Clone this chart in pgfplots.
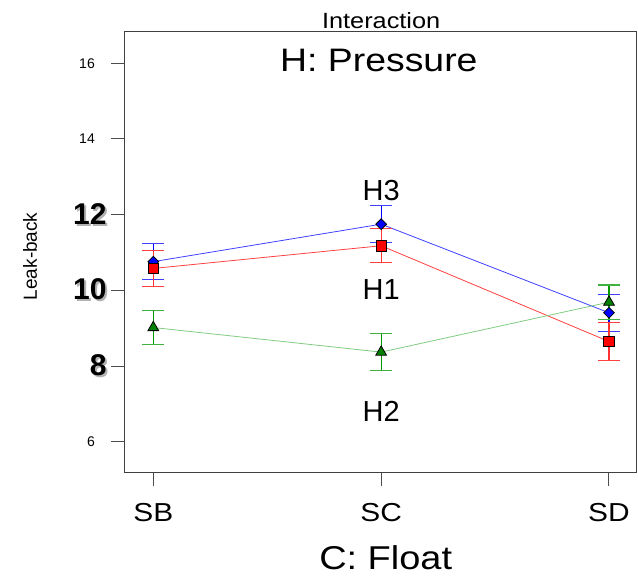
\documentclass[border=0pt]{standalone}
\usepackage{pgfplots}
\pgfplotsset{compat=1.18}
\usepackage{pgfplotstable}
\usepackage{fontspec}
\setmainfont{Liberation Sans}
\newfontfamily\wide[FakeStretch=1.15]{Liberation Sans}
\newcommand\sh[1]{\makebox[0pt][l]{\hspace{2bp}\raisebox{-2bp}{\textcolor{black!30}{#1}}}#1}
\pgfplotstableread{
x y e
0 10.76 0.48
1 11.75 0.49
2 9.41 0.49
}\tabHthree
\pgfplotstableread{
x y e
0 10.58 0.47
1 11.18 0.45
2 8.65 0.50
}\tabHone
\pgfplotstableread{
x y e
0 9.02 0.45
1 8.37 0.49
2 9.69 0.45
}\tabHtwo
\begin{document}
\begin{tikzpicture}
\begin{axis}[
 scale only axis, width=512.4bp, height=441bp,
 xmin=-0.1273, xmax=2.1216, ymin=5.185, ymax=16.834,
 /pgf/number format/assume math mode=true,
 axis line style={black!75, line width=1.1bp},
 tick align=outside, major tick length=13bp,
 tick style={black!70, line width=1bp},
 xtick={0,1,2}, xticklabels={SB,SC,SD}, xtick pos=bottom,
 ytick={6,14,16}, yticklabels={6,14,16}, ytick pos=left,
 xticklabel style={font=\wide\fontsize{26bp}{26bp}\selectfont, anchor=base, inner sep=0pt, yshift=-36bp},
 yticklabel style={font=\fontsize{14bp}{14bp}\selectfont, anchor=east, inner sep=0pt, xshift=-16.3bp},
 extra y ticks={8,10,12}, extra y tick labels={\sh{8},\sh{10},\sh{12}},
 extra y tick style={yticklabel style={font=\bfseries\fontsize{30bp}{30bp}\selectfont, xshift=11.7bp}},
 clip=false,
]
\addplot[color=blue!75, line width=0.8bp, mark=square*, mark size=3.8bp,
  mark options={rotate=45, fill=blue, draw=black, line width=0.8bp, solid},
  error bars/.cd, y dir=both, y explicit,
  error bar style={draw=blue, line width=1.2bp},
  error mark options={rotate=90, mark size=11bp, line width=1.3bp, draw=blue!75}]
  table[x=x, y=y, y error=e]{\tabHthree};
\addplot[color=red!75, line width=0.8bp, mark=square*, mark size=5.2bp,
  mark options={fill=red, draw=black, line width=0.8bp, solid},
  error bars/.cd, y dir=both, y explicit,
  error bar style={draw=red!80, line width=1.2bp},
  error mark options={rotate=90, mark size=11bp, line width=1.3bp, draw=red!75}]
  table[x=x, y=y, y error=e]{\tabHone};
\addplot[color=green!60!black!50!white, line width=0.8bp, mark=triangle*, mark size=6.2bp,
  mark options={fill=green!50!black, draw=black, line width=0.8bp, solid},
  error bars/.cd, y dir=both, y explicit,
  error bar style={draw=green!60!black, line width=1.2bp},
  error mark options={rotate=90, mark size=11bp, line width=1.3bp, draw=green!60!black!75!white}]
  table[x=x, y=y, y error=e]{\tabHtwo};
\node[font=\wide\fontsize{22bp}{22bp}\selectfont, anchor=base, yshift=3.4bp] at (axis cs:1,16.834) {Interaction};
\node[font=\wide\fontsize{32.5bp}{32.5bp}\selectfont, anchor=base] at (axis cs:0.99,15.78) {H: Pressure};
\node[font=\fontsize{29bp}{29bp}\selectfont, anchor=base] at (axis cs:1,12.37) {H3};
\node[font=\fontsize{29bp}{29bp}\selectfont, anchor=base] at (axis cs:1,9.76) {H1};
\node[font=\fontsize{29bp}{29bp}\selectfont, anchor=base] at (axis cs:1,6.55) {H2};
\node[font=\wide\fontsize{33bp}{33bp}\selectfont, anchor=base, yshift=-96.6bp] at (axis cs:1.02,5.185) {C: Float};
\node[font=\fontsize{19bp}{19bp}\selectfont, rotate=90, anchor=center] at (axis cs:-0.541,10.9) {Leak-back};
\end{axis}
\pgfresetboundingbox
\path (current axis.south west) ++(-124.3bp,-112.3bp) rectangle ++(638bp,585bp);
\end{tikzpicture}
\end{document}
